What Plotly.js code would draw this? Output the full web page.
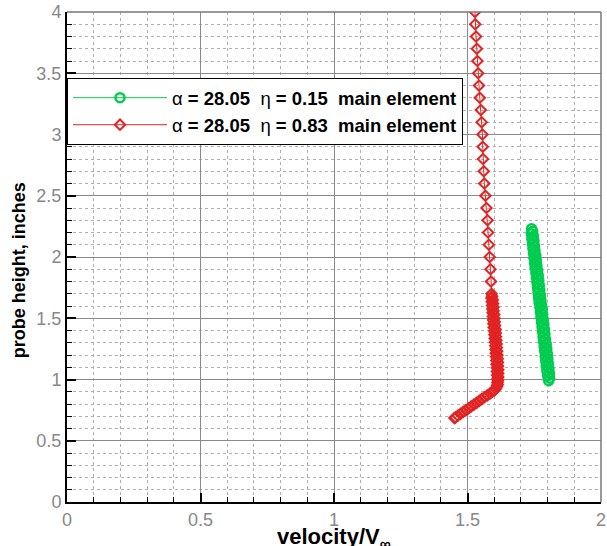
<!DOCTYPE html>
<html>
<head>
<meta charset="utf-8">
<script src="https://cdn.plot.ly/plotly-3.0.1.min.js"></script>
<style>html,body{margin:0;padding:0;background:#fff;}#chart{width:607px;height:546px;}</style>
</head>
<body>
<div id="chart"></div>
<script>
// η = 0.15 main element (green)
const greenY = [2.23,2.21,2.19,2.17,2.15,2.13,2.11,2.09,2.07,2.05,2.03,2.01,1.99,1.97,1.95,1.93,1.91,1.89,1.87,1.85,1.83,1.81,1.79,1.77,1.75,1.73,1.71,1.69,1.67,1.65,1.63,1.61,1.59,1.57,1.55,1.53,1.51,1.49,1.47,1.45,1.43,1.41,1.39,1.37,1.35,1.33,1.31,1.29,1.27,1.25,1.23,1.21,1.19,1.17,1.15,1.13,1.11,1.09,1.07,1.05,1.03,1.01,0.99];
const greenX = [1.740,1.744,1.739,1.747,1.741,1.749,1.743,1.751,1.745,1.753,1.747,1.756,1.749,1.758,1.751,1.760,1.753,1.763,1.756,1.765,1.758,1.767,1.760,1.769,1.762,1.771,1.764,1.773,1.766,1.775,1.768,1.777,1.771,1.780,1.773,1.782,1.775,1.784,1.777,1.786,1.779,1.788,1.781,1.790,1.783,1.792,1.785,1.795,1.787,1.797,1.789,1.799,1.791,1.801,1.793,1.803,1.795,1.805,1.797,1.807,1.800,1.808,1.804];

// η = 0.83 main element (red)
const redY = [4.0,3.9,3.8,3.7,3.6,3.5,3.4,3.3,3.2,3.1,3.0,2.9,2.8,2.7,2.6,2.5,2.4,2.3,2.2,2.1,2.0,1.9,1.8,1.7,
  1.68,1.665,1.65,1.635,1.62,1.605,1.59,1.575,1.56,1.545,1.53,1.515,1.50,1.485,1.47,1.455,1.44,1.425,1.41,1.395,1.38,1.365,1.35,1.335,1.32,1.305,1.29,1.275,1.26,1.245,1.23,1.215,1.20,1.185,1.17,1.155,1.14,1.125,1.11,1.095,1.08,1.065,1.05,1.035,1.02,1.005,0.99,0.975,0.96,0.95,
  0.94,0.925,0.91,0.898,0.885,0.87,0.855,0.84,0.825,0.81,0.795,0.78,0.765,0.75,0.735,0.72,0.705,0.69,0.685];
const redX = [1.528,1.529,1.532,1.535,1.537,1.540,1.543,1.546,1.550,1.553,1.556,1.557,1.558,1.561,1.563,1.567,1.571,1.575,1.577,1.580,1.583,1.586,1.588,1.590,
  1.592,1.590,1.595,1.591,1.596,1.592,1.597,1.593,1.598,1.594,1.600,1.595,1.601,1.596,1.602,1.597,1.603,1.598,1.605,1.600,1.606,1.601,1.607,1.602,1.608,1.603,1.609,1.604,1.610,1.605,1.611,1.606,1.612,1.607,1.613,1.608,1.614,1.609,1.614,1.610,1.615,1.610,1.615,1.611,1.615,1.612,1.614,1.612,1.613,1.611,
  1.610,1.606,1.600,1.592,1.584,1.574,1.563,1.553,1.544,1.534,1.524,1.514,1.504,1.494,1.484,1.474,1.464,1.455,1.451];

const nameGreen = "α<b> = 28.05&nbsp;&nbsp;</b>η<b> = 0.15&nbsp;&nbsp;main element</b>";
const nameRed = "α<b> = 28.05&nbsp;&nbsp;</b>η<b> = 0.83&nbsp;&nbsp;main element</b>";
const xTitle = "<b>velocity/V<sub>∞</sub></b>";
const yTitle = "<b>probe height, inches</b>";
const xTickVals = [0, 0.5, 1, 1.5, 2];
const xTickText = ["0", "0.5", "1", "1.5", "2"];
const yTickVals = [0, 0.5, 1, 1.5, 2, 2.5, 3, 3.5, 4];
const yTickText = ["0", "0.5", "1", "1.5", "2", "2.5", "3", "3.5", "4"];

const green = 'rgb(0,205,80)';
const red = 'rgb(225,35,35)';

const traces = [
  {x: greenX, y: greenY, name: nameGreen, type: 'scatter', mode: 'lines+markers',
   line: {color: green, width: 1},
   marker: {symbol: 'circle-open', size: 9, color: green, line: {color: green, width: 2.5}}},
  {x: redX, y: redY, name: nameRed, type: 'scatter', mode: 'lines+markers',
   line: {color: red, width: 1},
   marker: {symbol: 'diamond-open', size: 8, color: red, line: {color: red, width: 2}}}
];

const axisCommon = {
  showgrid: true, gridcolor: '#8a8a8a', gridwidth: 1,
  zeroline: false, showline: true, linecolor: '#000', linewidth: 2,
  ticks: 'inside', ticklen: 9, tickwidth: 2, tickcolor: '#000',
  tickfont: {family: 'Liberation Sans, Arial, sans-serif', size: 18, color: '#888'},
  tickmode: 'array',
  minor: {dtick: 0.1, ticks: 'inside', ticklen: 5, tickwidth: 1, tickcolor: '#000',
          showgrid: true, gridcolor: '#b0b0b0', gridwidth: 1, griddash: 'dot'}
};

const layout = {
  width: 607, height: 546,
  margin: {l: 67, r: 6, t: 12, b: 44},
  paper_bgcolor: '#fff', plot_bgcolor: '#fff',
  font: {family: 'Liberation Sans, Arial, sans-serif', color: '#000'},
  xaxis: Object.assign({}, axisCommon, {
    range: [0, 2], tickvals: xTickVals, ticktext: xTickText
  }),
  yaxis: Object.assign({}, axisCommon, {
    range: [0, 4], tickvals: yTickVals, ticktext: yTickText
  }),
  annotations: [
    {text: xTitle, xref: 'paper', yref: 'paper', x: 0.5, y: -0.041, xanchor: 'center', yanchor: 'top',
     showarrow: false, font: {size: 22, color: '#000'}},
    {text: yTitle, xref: 'paper', yref: 'paper', x: -0.09, y: 0.473, xanchor: 'center', yanchor: 'middle',
     textangle: -90, showarrow: false, font: {size: 18, color: '#000'}}
  ],
  showlegend: true,
  legend: {
    x: 0.0, y: 0.865, xanchor: 'left', yanchor: 'top',
    bgcolor: '#fff', bordercolor: '#000', borderwidth: 1,
    font: {family: 'Liberation Sans, Arial, sans-serif', size: 18.5, color: '#000'},
    itemwidth: 94, tracegroupgap: 0
  },
  shapes: [
    {type: 'line', xref: 'paper', yref: 'paper', x0: 0, x1: 1, y0: 1, y1: 1, line: {color: '#777', width: 1.5}},
    {type: 'line', xref: 'paper', yref: 'paper', x0: 1, x1: 1, y0: 0, y1: 1, line: {color: '#777', width: 1.5}}
  ]
};

Plotly.newPlot('chart', traces, layout, {displayModeBar: false, staticPlot: true});
</script>
</body>
</html>
